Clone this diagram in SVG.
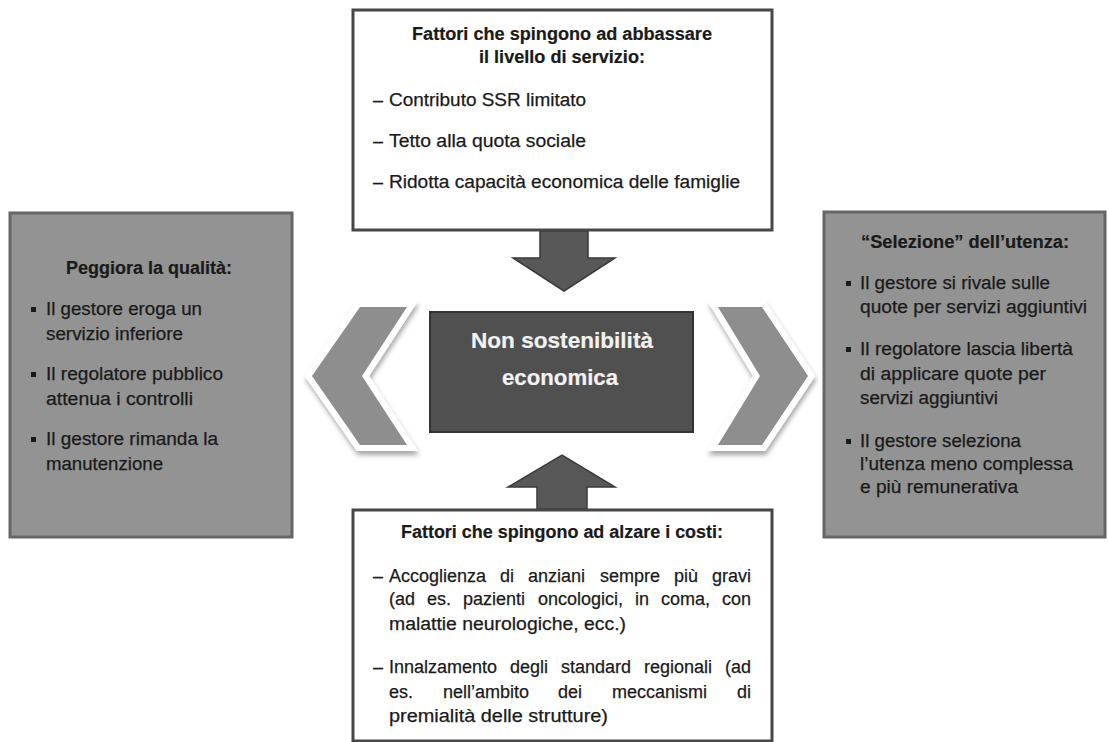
<svg xmlns="http://www.w3.org/2000/svg" width="1108" height="742" viewBox="0 0 1108 742">
<style>
text { font-family: "Liberation Sans", Arial, sans-serif; fill: #1a1a1a; font-size: 18px; stroke: #1a1a1a; stroke-width: 0.25; }
.b { font-weight: bold; stroke-width: 0.2; }
.c { text-anchor: middle; }
.w { fill: #f2f2f2; stroke: #f2f2f2; font-size: 22px; font-weight: bold; stroke-width: 0.2; }
.box { fill: #ffffff; stroke: #474747; stroke-width: 3; }
.side { fill: #939393; stroke: #666666; stroke-width: 3; }
.ctr { fill: #505050; stroke: #333333; stroke-width: 2; }
.arr { fill: #585858; stroke: #3a3a3a; stroke-width: 1.5; }
.chev { fill: #8e8e8e; stroke: #ffffff; stroke-width: 12; paint-order: stroke; stroke-linejoin: miter; filter: url(#sh); }
.bul { fill: #1a1a1a; }
</style>
<defs>
<filter id="sh" x="-30%" y="-30%" width="160%" height="160%">
<feDropShadow dx="1" dy="4" stdDeviation="2.5" flood-color="#000" flood-opacity="0.35"/>
</filter>
</defs>
<rect width="1108" height="742" fill="#ffffff"/>

<g id="connectors">
<polygon class="arr" points="540,231 588,231 588,258 615,258 564,291 513,258 540,258"/>
<polygon class="arr" points="537,509 587,509 587,487 615,487 562,455 508,487 537,487"/>
<polygon class="chev" points="360,307 407,307 362,376 407,445 360,445 312,376"/>
<polygon class="chev" points="718,307 762,307 808,376 762,445 718,445 760,376"/>
</g>

<g id="top">
<rect class="box" x="353" y="10" width="419" height="220"/>
<text class="b c" x="562" y="40" textLength="300" lengthAdjust="spacingAndGlyphs">Fattori che spingono ad abbassare</text>
<text class="b c" x="562" y="63" textLength="166" lengthAdjust="spacingAndGlyphs">il livello di servizio:</text>
<text x="373" y="106">–</text><text x="389" y="106" textLength="197" lengthAdjust="spacingAndGlyphs">Contributo SSR limitato</text>
<text x="373" y="147">–</text><text x="389" y="147" textLength="197" lengthAdjust="spacingAndGlyphs">Tetto alla quota sociale</text>
<text x="373" y="188">–</text><text x="389" y="188" textLength="351" lengthAdjust="spacingAndGlyphs">Ridotta capacità economica delle famiglie</text>
</g>

<g id="center">
<rect class="ctr" x="430" y="312" width="263" height="120"/>
<text class="w c" x="562" y="348" textLength="182" lengthAdjust="spacingAndGlyphs">Non sostenibilità</text>
<text class="w c" x="560" y="385" textLength="116" lengthAdjust="spacingAndGlyphs">economica</text>
</g>

<g id="left">
<rect class="side" x="10" y="213" width="282" height="324"/>
<text class="b c" x="149" y="274" textLength="166" lengthAdjust="spacingAndGlyphs">Peggiora la qualità:</text>
<rect class="bul" x="31" y="307" width="5" height="5"/>
<text x="46" y="315" textLength="156" lengthAdjust="spacingAndGlyphs">Il gestore eroga un</text>
<text x="46" y="340" textLength="137" lengthAdjust="spacingAndGlyphs">servizio inferiore</text>
<rect class="bul" x="31" y="372" width="5" height="5"/>
<text x="46" y="380" textLength="177" lengthAdjust="spacingAndGlyphs">Il regolatore pubblico</text>
<text x="46" y="405" textLength="147" lengthAdjust="spacingAndGlyphs">attenua i controlli</text>
<rect class="bul" x="31" y="437" width="5" height="5"/>
<text x="46" y="445" textLength="172" lengthAdjust="spacingAndGlyphs">Il gestore rimanda la</text>
<text x="46" y="470" textLength="117" lengthAdjust="spacingAndGlyphs">manutenzione</text>
</g>

<g id="right">
<rect class="side" x="824" y="212" width="281" height="325"/>
<text class="b c" x="965" y="248" textLength="208" lengthAdjust="spacingAndGlyphs">“Selezione” dell’utenza:</text>
<rect class="bul" x="846" y="281" width="5" height="5"/>
<text x="860" y="289" textLength="190" lengthAdjust="spacingAndGlyphs">Il gestore si rivale sulle</text>
<text x="860" y="313" textLength="227" lengthAdjust="spacingAndGlyphs">quote per servizi aggiuntivi</text>
<rect class="bul" x="846" y="347" width="5" height="5"/>
<text x="860" y="355" textLength="213" lengthAdjust="spacingAndGlyphs">Il regolatore lascia libertà</text>
<text x="860" y="380" textLength="186" lengthAdjust="spacingAndGlyphs">di applicare quote per</text>
<text x="860" y="404" textLength="138" lengthAdjust="spacingAndGlyphs">servizi aggiuntivi</text>
<rect class="bul" x="846" y="439" width="5" height="5"/>
<text x="860" y="447" textLength="161" lengthAdjust="spacingAndGlyphs">Il gestore seleziona</text>
<text x="860" y="470" textLength="213" lengthAdjust="spacingAndGlyphs">l’utenza meno complessa</text>
<text x="860" y="493" textLength="158" lengthAdjust="spacingAndGlyphs">e più remunerativa</text>
</g>

<g id="bottom">
<rect class="box" x="353" y="510" width="419" height="231"/>
<text class="b c" x="562" y="538" textLength="322" lengthAdjust="spacingAndGlyphs">Fattori che spingono ad alzare i costi:</text>
<text x="373" y="582">–</text>
<text y="582"><tspan x="389">Accoglienza</tspan><tspan x="500">di</tspan><tspan x="528">anziani</tspan><tspan x="600">sempre</tspan><tspan x="674">più</tspan><tspan x="712">gravi</tspan></text>
<text y="605"><tspan x="389">(ad</tspan><tspan x="427">es.</tspan><tspan x="463">pazienti</tspan><tspan x="538">oncologici,</tspan><tspan x="635">in</tspan><tspan x="661">coma,</tspan><tspan x="722">con</tspan></text>
<text x="389" y="630" textLength="237" lengthAdjust="spacingAndGlyphs">malattie neurologiche, ecc.)</text>
<text x="373" y="673">–</text>
<text y="673"><tspan x="389">Innalzamento</tspan><tspan x="510">degli</tspan><tspan x="561">standard</tspan><tspan x="644">regionali</tspan><tspan x="725">(ad</tspan></text>
<text y="698"><tspan x="389">es.</tspan><tspan x="443">nell’ambito</tspan><tspan x="558">dei</tspan><tspan x="612">meccanismi</tspan><tspan x="737">di</tspan></text>
<text x="389" y="722" textLength="219" lengthAdjust="spacingAndGlyphs">premialità delle strutture)</text>
</g>
</svg>
